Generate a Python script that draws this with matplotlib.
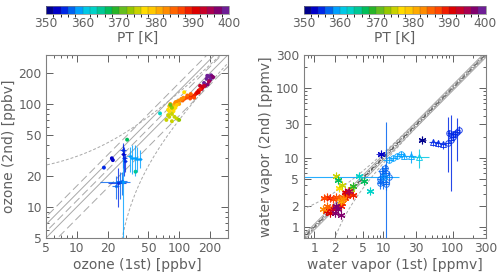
import matplotlib
matplotlib.use("Agg")
import matplotlib.pyplot as plt
import numpy as np
from matplotlib.colors import ListedColormap, BoundaryNorm
from matplotlib.ticker import FixedLocator, FixedFormatter, NullFormatter, LogLocator
from matplotlib.colorbar import ColorbarBase

# Colour scale for potential temperature (2 K steps)
PT_COLORS = ['#00008c', '#0000c8', '#0028e6', '#0064f0', '#00a0ff', '#00c8e6',
             '#00d2c8', '#00c896', '#00be5a', '#28b428', '#64be1e', '#96c800',
             '#c8d200', '#ffdc00', '#ffc800', '#ffaa00', '#ff8c00', '#ff6400',
             '#ff4600', '#f01e00', '#dc0000', '#c80028', '#aa0050', '#82006e',
             '#6e1e96']
PT_LEVELS = np.arange(350, 402, 2)
PT_TICKS = [350, 360, 370, 380, 390, 400]

# Ozone: points without error bars
o3_x = [165, 175, 185, 195, 205, 190, 200, 180, 210, 170, 195, 205, 188, 215,
        160, 165, 170, 155, 175, 150, 160,
        112, 118, 124, 130, 135, 140, 145, 150, 155, 140, 130, 120, 108, 128,
        95, 100, 105, 90, 85, 100, 110, 92,
        80, 85, 90, 78, 95, 88, 82,
        75, 80, 85, 90, 95, 100, 88, 80, 78, 85, 112, 92,
        85, 82, 65, 31, 37.5, 22, 22.5, 18.4]
o3_y = [140, 160, 175, 185, 190, 155, 170, 150, 185, 148, 165, 178, 188, 182,
        150, 140, 145, 135, 150, 130, 138,
        112, 115, 118, 120, 118, 120, 125, 128, 130, 115, 125, 121, 108, 113,
        105, 108, 112, 100, 95, 100, 115, 104,
        95, 90, 92, 88, 98, 85, 100,
        70, 75, 80, 75, 72, 70, 88, 85, 78, 68, 130, 92,
        92, 98, 81, 45, 22, 29.7, 28.5, 24.1]
o3_pt = [398, 398, 398, 398, 398, 396, 396, 396, 396, 396, 394, 398, 398, 396,
         392, 392, 390, 390, 392, 390, 388,
         386, 386, 386, 388, 388, 388, 388, 390, 390, 386, 384, 384, 384, 386,
         382, 382, 382, 380, 380, 380, 382, 382,
         378, 378, 378, 376, 378, 376, 380,
         374, 374, 374, 374, 374, 372, 376, 376, 374, 374, 376, 376,
         372, 370, 362, 366, 364, 352, 352, 354]

# Ozone: points with error bars (low / high bounds)
o3e_x = [29.0, 28.5, 29.5, 28.0, 33, 35, 37, 39, 41, 26.5, 25, 27.5, 24, 28.4]
o3e_y = [30, 33, 28, 36, 31, 30, 30, 29.5, 29, 17.5, 17, 18, 16, 17.5]
o3e_xlo = [27.5, 27, 28, 26.5, 31, 33, 35, 37, 39, 17, 20, 24, 22, 27.5]
o3e_xhi = [31, 30, 31, 30, 35, 37, 39, 41, 43, 33, 30, 31, 26, 29.5]
o3e_ylo = [20, 24, 22, 28, 22, 21, 20, 22, 24, 12, 10, 13, 12, 4]
o3e_yhi = [38, 40, 33, 42, 38, 40, 40, 38, 36, 22, 24, 22, 20, 30]
o3e_pt = [354, 352, 354, 354, 358, 358, 358, 358, 358, 356, 354, 356, 356, 358]

# Water vapour: asterisk points
h2o_x = [1.4, 1.55, 1.7, 1.9, 2.1, 2.3, 1.6, 1.8, 2.5, 2.8, 3.0, 3.3, 3.6, 2.6,
         1.5, 1.7, 1.9, 2.8, 3.1, 2.4,
         2.0, 2.2, 2.4, 2.1,
         1.35, 2.4, 2.6, 1.55,
         2.07, 2.3, 2.5, 3.4,
         2.2, 5.25, 3.6,
         4.4, 6.4, 3.2, 9.2, 36.8]
h2o_y = [2.6, 2.7, 2.6, 2.5, 2.7, 2.6, 1.8, 1.9, 2.2, 2.6, 2.8, 3.0, 2.9, 2.7,
         1.7, 1.6, 1.8, 3.2, 3.3, 2.0,
         1.6, 1.8, 1.5, 2.0,
         1.8, 2.4, 2.5, 2.0,
         5.4, 3.7, 4.0, 3.5,
         4.7, 4.6, 3.9,
         5.4, 3.3, 3.3, 11.1, 17.8]
h2o_pt = [386, 386, 388, 386, 386, 384, 384, 386, 386, 384, 388, 386, 388, 384,
          390, 390, 392, 390, 392, 388,
          396, 396, 396, 396,
          382, 380, 382, 384,
          374, 376, 374, 374,
          366, 366, 368,
          362, 362, 394, 352, 350]
h2o_xerr = [0.15, 0.15, 0.2, 0.2, 0.2, 0.2, 0.15, 0.2, 0.2, 0.3, 0.3, 0.4, 0.4, 0.2,
            0.15, 0.15, 0.2, 0.3, 0.3, 0.2,
            0.2, 0.2, 0.2, 0.2,
            0.1, 0.2, 0.2, 0.1,
            0.15, 0.2, 0.2, 0.3,
            0.2, 0.4, 0.3,
            0.4, 0.4, 0.3, 1.5, 4.0]
h2o_yerr = [0.2, 0.2, 0.2, 0.2, 0.2, 0.2, 0.2, 0.2, 0.2, 0.2, 0.3, 0.3, 0.3, 0.2,
            0.2, 0.2, 0.2, 0.3, 0.3, 0.2,
            0.2, 0.2, 0.2, 0.2,
            0.2, 0.2, 0.2, 0.2,
            0.3, 0.3, 0.3, 0.3,
            0.3, 0.3, 0.3,
            0.3, 0.2, 0.5, 1.0, 1.2]

# Water vapour: open symbols with error bars
h2oe_x = [9.0, 10.0, 11.0, 10.0, 12.0, 9.5, 10.5, 11.0, 9.0, 10.2,
          12, 14, 16, 18, 20, 25, 33,
          53, 62, 72, 85, 94, 100, 108, 117, 123, 90, 100]
h2oe_y = [5.0, 5.5, 6.0, 4.5, 5.2, 6.5, 7.0, 4.2, 4.3, 5.3,
          9.3, 10.0, 10.5, 11.2, 10.6, 10.6, 10.2,
          16.5, 16.0, 15.5, 16.0, 18.0, 20.0, 22.0, 23.0, 25.0, 22.5, 22.0]
h2oe_xlo = [8, 9, 10, 8.5, 11, 8.5, 9.5, 10, 8, 0.7,
            10, 12.5, 14.5, 16, 17, 21, 24,
            45, 55, 65, 75, 85, 92, 100, 108, 115, 82, 92]
h2oe_xhi = [10, 11, 12.5, 11.5, 13.5, 10.5, 11.5, 12, 10, 17,
            14, 16, 18, 20, 23, 30, 45,
            62, 70, 80, 95, 104, 110, 118, 126, 130, 98, 108]
h2oe_ylo = [4.0, 4.5, 0.6, 3.5, 4.2, 5.5, 6.0, 3.4, 3.5, 5.1,
            8.3, 9.0, 9.5, 10.2, 9.6, 8.5, 7.0,
            14.5, 14.0, 13.5, 6.3, 3.3, 17.5, 19.0, 8.8, 22.0, 20.0, 19.5]
h2oe_yhi = [6.2, 6.8, 32.0, 5.5, 6.4, 7.6, 8.0, 5.0, 5.2, 5.5,
            10.4, 11.0, 11.6, 12.4, 11.6, 12.5, 13.5,
            18.5, 18.0, 17.5, 38.0, 41.0, 23.0, 25.0, 37.0, 28.0, 25.0, 24.5]
h2oe_pt = [356, 356, 356, 356, 356, 356, 356, 356, 356, 358,
           358, 358, 358, 358, 358, 358, 360,
           354, 354, 354, 354, 354, 354, 354, 354, 354, 354, 354]
h2oe_marker = ['o'] * 10 + ['o', 'o', 'o', 'o', '^', '^', '^'] + ['^', '^', '^', 'o', 'o', 'o', 'o', 'o', 'o', 'o', 'o']

cmap = ListedColormap(PT_COLORS)
norm = BoundaryNorm(PT_LEVELS, cmap.N)
GRAY = '#606060'
LINE = '#a8a8a8'

plt.rcParams['font.family'] = ['DejaVu Sans']

fig = plt.figure(figsize=(5, 2.77), dpi=100)
ax1 = fig.add_axes([0.092, 0.141, 0.364, 0.661])
ax2 = fig.add_axes([0.607, 0.141, 0.364, 0.661])
cax1 = fig.add_axes([0.092, 0.949, 0.366, 0.029])
cax2 = fig.add_axes([0.607, 0.949, 0.364, 0.029])


def style_axes(ax, lim, ticks):
    ax.set_xscale('log')
    ax.set_yscale('log')
    ax.set_xlim(*lim)
    ax.set_ylim(*lim)
    for a in (ax.xaxis, ax.yaxis):
        a.set_major_locator(FixedLocator(ticks))
        a.set_major_formatter(FixedFormatter([str(t) for t in ticks]))
        a.set_minor_locator(LogLocator(subs=np.arange(2, 10)))
        a.set_minor_formatter(NullFormatter())
    ax.tick_params(which='both', direction='in', top=True, right=True,
                   colors=GRAY, labelsize=8.8, width=0.7)
    ax.tick_params(which='major', length=5, pad=3)
    ax.tick_params(which='minor', length=2.5)
    for s in ax.spines.values():
        s.set_color('#808080')
        s.set_linewidth(0.8)


# ---- ozone panel
style_axes(ax1, (5, 300), [5, 10, 20, 50, 100, 200])
xx = np.geomspace(0.5, 400, 400)
ax1.plot(xx, xx, color=LINE, lw=0.7)
for f, ls in [(1.15, (0, (8, 4))), (1.35, '-'), (1.6, (0, (8, 4))), (1 / 1.3, (0, (8, 4)))]:
    ax1.plot(xx, xx * f, color=LINE, lw=0.7, ls=ls)
ax1.plot(xx, 1.1 * xx + 20, color=LINE, lw=0.7, ls=(0, (3, 2)))
lo = 0.9 * xx - 20
ax1.plot(xx[lo > 0], lo[lo > 0], color=LINE, lw=0.7, ls=(0, (3, 2)))

for i in range(len(o3e_x)):
    c = cmap(norm(o3e_pt[i]))
    ax1.errorbar(o3e_x[i], o3e_y[i],
                 xerr=[[o3e_x[i] - o3e_xlo[i]], [o3e_xhi[i] - o3e_x[i]]],
                 yerr=[[o3e_y[i] - o3e_ylo[i]], [o3e_yhi[i] - o3e_y[i]]],
                 fmt='o', ms=2.4, color=c, ecolor=c, elinewidth=0.8, alpha=0.8,
                 capsize=0, mew=0)
ax1.scatter(o3_x, o3_y, c=o3_pt, cmap=cmap, norm=norm, s=8, lw=0, zorder=3)
ax1.set_xlabel('ozone (1st) [ppbv]', color=GRAY, fontsize=10, labelpad=2)
ax1.set_ylabel('ozone (2nd) [ppbv]', color=GRAY, fontsize=10, labelpad=2)

# ---- water vapour panel
style_axes(ax2, (0.7, 300), [1, 2, 5, 10, 30, 100, 300])
ax2.plot(xx, xx * 1.1, color=LINE, lw=0.7)
ax2.plot(xx, xx / 1.1, color=LINE, lw=0.7)
ax2.plot(xx, xx * 1.04, color='#707070', lw=0.6, ls=(0, (4, 2)))
ax2.plot(xx, xx / 1.04, color='#707070', lw=0.6, ls=(0, (4, 2)))
ax2.plot(xx, xx, color='#404040', lw=0.6, ls=(0, (6, 2, 1, 2)))
ax2.plot(xx, 1.05 * xx + 1.1, color=LINE, lw=0.7, ls=(0, (3, 2)))
lo2 = 0.95 * xx - 1.2
ax2.plot(xx[lo2 > 0], lo2[lo2 > 0], color=LINE, lw=0.7, ls=(0, (3, 2)))

for i in range(len(h2oe_x)):
    c = cmap(norm(h2oe_pt[i]))
    ax2.errorbar(h2oe_x[i], h2oe_y[i],
                 xerr=[[h2oe_x[i] - h2oe_xlo[i]], [h2oe_xhi[i] - h2oe_x[i]]],
                 yerr=[[h2oe_y[i] - h2oe_ylo[i]], [h2oe_yhi[i] - h2oe_y[i]]],
                 fmt=h2oe_marker[i], ms=4, mfc='none', mec=c, ecolor=c,
                 elinewidth=0.8, capsize=0, mew=0.7, alpha=0.85)
for i in range(len(h2o_x)):
    c = cmap(norm(h2o_pt[i]))
    ax2.errorbar(h2o_x[i], h2o_y[i], xerr=h2o_xerr[i], yerr=h2o_yerr[i],
                 fmt='none', ecolor=c, elinewidth=0.7, capsize=0, alpha=0.8)
    ax2.plot(h2o_x[i], h2o_y[i], marker=(6, 2, 0), ms=5.5, mew=0.8, color=c,
             ls='none', zorder=3)
ax2.set_xlabel('water vapor (1st) [ppmv]', color=GRAY, fontsize=10, labelpad=2)
ax2.set_ylabel('water vapor (2nd) [ppmv]', color=GRAY, fontsize=10, labelpad=2)

# ---- colour bars
for cax in (cax1, cax2):
    cb = ColorbarBase(cax, cmap=cmap, norm=norm, orientation='horizontal',
                      ticks=PT_TICKS, drawedges=True)
    cb.dividers.set_color('#404040')
    cb.dividers.set_linewidth(0.3)
    cb.dividers.set_alpha(0.5)
    cb.outline.set_linewidth(0.5)
    cb.outline.set_edgecolor('#808080')
    cax.tick_params(length=0, pad=2, labelsize=8.8, colors=GRAY)
    cb.set_label('PT [K]', color=GRAY, fontsize=10, labelpad=1)

fig.savefig('out.png', dpi=100)
